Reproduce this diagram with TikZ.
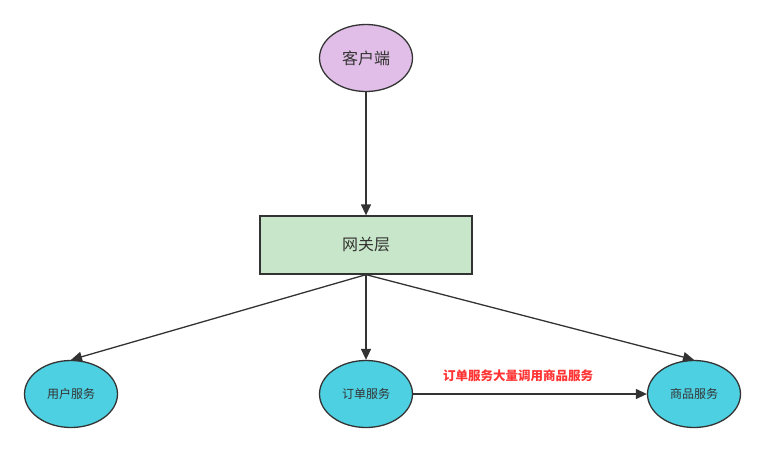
\documentclass[tikz,border=0pt]{standalone}
\usepackage{fontspec}
\newfontfamily\cjk{Noto Sans CJK SC}
\usetikzlibrary{shapes.geometric,arrows.meta}
\definecolor{clientfill}{RGB}{225,190,231}
\definecolor{gwfill}{RGB}{200,230,201}
\definecolor{svcfill}{RGB}{77,208,225}
\definecolor{strokec}{RGB}{51,51,51}
\definecolor{labelred}{RGB}{255,51,51}
\tikzset{
  ell/.style={ellipse, draw=strokec, line width=1.3pt, minimum width=93pt, minimum height=67pt, inner sep=0pt, font=\cjk\fontsize{16}{18}\selectfont, text=strokec},
  svc/.style={ell, fill=svcfill, font=\cjk\fontsize{12}{14}\selectfont},
  conn/.style={draw=strokec, line width=1.3pt, -{Triangle[length=11pt,width=10pt]}},
}
\begin{document}
\begin{tikzpicture}[x=1pt,y=-1pt]
\useasboundingbox (0,0) rectangle (766,453);
\node[ell, fill=clientfill] (client) at (366,58) {客户端};
\node[draw=strokec, line width=1.3pt, fill=gwfill, minimum width=212pt, minimum height=58pt, inner sep=0pt, font=\cjk\fontsize{16}{18}\selectfont, text=strokec] (gw) at (366,245) {网关层};
\node[svc] (user) at (71,394) {用户服务};
\node[svc] (order) at (366,394) {订单服务};
\node[svc] (goods) at (694,394) {商品服务};
\draw[conn] (client) -- (gw);
\draw[conn] (gw.south) -- (user.north);
\draw[conn] (gw.south) -- (order);
\draw[conn] (gw.south) -- (goods.north);
\draw[conn] (order) -- (goods);
\node[font=\cjk\bfseries\fontsize{12.5}{14}\selectfont, text=labelred] (lbl) at (518,376) {订单服务大量调用商品服务};
\end{tikzpicture}
\end{document}
